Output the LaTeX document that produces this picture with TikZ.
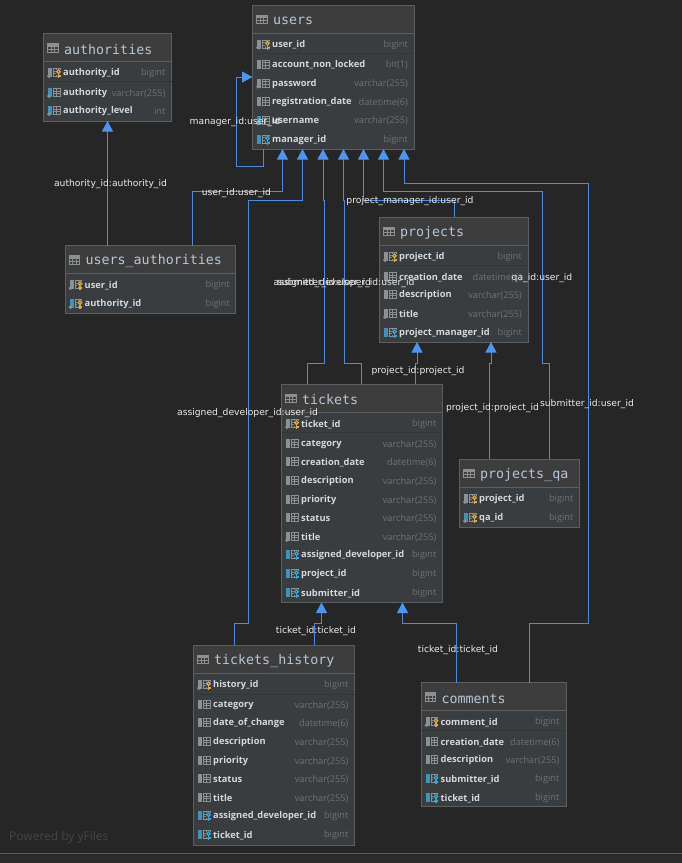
\documentclass[tikz,border=0pt]{standalone}
\usepackage{fontspec}
\usetikzlibrary{arrows.meta}
\setmainfont{Open Sans}
\newfontfamily\titlefont{DejaVu Sans Mono}
\newfontfamily\edgefont{DejaVu Sans}
\definecolor{canvas}{HTML}{262626}
\definecolor{band}{HTML}{2B2B2B}
\definecolor{tablebody}{HTML}{3A3D40}
\definecolor{tablehead}{HTML}{3D3D3D}
\definecolor{tableedge}{HTML}{5C5E5F}
\definecolor{titleink}{HTML}{B6C6D6}
\definecolor{nameink}{HTML}{D3D8DC}
\definecolor{typeink}{HTML}{6E7275}
\definecolor{iconink}{HTML}{8B9093}
\definecolor{fkblue}{HTML}{3D93B8}
\definecolor{keygold}{HTML}{E0A93F}
\definecolor{keycyan}{HTML}{35A7D6}
\definecolor{link}{HTML}{4A8BDD}
\definecolor{tip}{HTML}{4C95F2}
\tikzset{
  x=1pt,y=-1pt,
  dbtable/.style={draw=tableedge,line width=1pt,fill=tablebody,anchor=north west,inner sep=0pt,outer sep=0pt},
  dbtitle/.style={anchor=west,inner sep=0pt,text=titleink,font=\titlefont\fontsize{13.3}{14}\selectfont},
  colname/.style={anchor=west,inner sep=0pt,text=nameink,font=\bfseries\fontsize{9.3}{10}\selectfont},
  coltype/.style={anchor=east,inner sep=0pt,text=typeink,font=\fontsize{9.2}{10}\selectfont},
  fk/.style={draw=link,line width=1pt,-{Triangle[length=10.5pt,width=11pt,color=tip]}},
  edgelabel/.style={inner sep=0pt,text=white!92!black,font=\edgefont\fontsize{9.2}{10}\selectfont},
  brand/.style={anchor=west,inner sep=0pt,text=white!27!black,font=\fontsize{12}{13}\selectfont}
}
\newcounter{rowno}
% table frame: name, x, y, width, height, title
\newcommand{\dbframe}[6]{%
  \node[dbtable,minimum width=#4pt,minimum height=#5pt] (#1) at (#2,#3) {};
  \fill[tablehead] (#2+.5,#3+.5) rectangle (#2+#4-.5,#3+28);
  \draw[tableedge,line width=.8pt] (#2,#3+28) -- (#2+#4,#3+28);
  \draw[iconink,line width=.8pt] (#2+4,#3+10) rectangle (#2+14.5,#3+18.5)
     (#2+4,#3+12.5) -- (#2+14.5,#3+12.5) (#2+4,#3+15.5) -- (#2+14.5,#3+15.5)
     (#2+7.5,#3+10) -- (#2+7.5,#3+18.5) (#2+11,#3+10) -- (#2+11,#3+18.5);
  \fill[iconink] (#2+4,#3+10) rectangle (#2+14.5,#3+12.5);
  \node[dbtitle] (#1-title) at (#2+20.5,#3+16) {#6};
}
% column icon parts, anchored at the left edge and row centre
\newcommand{\icongrid}[3]{%
  \fill[#3] (#1,#2-4.5) rectangle (#1+4,#2+4.5);
  \draw[iconink,line width=.8pt] (#1+5.5,#2-4) rectangle (#1+12,#2+4)
    (#1+5.5,#2-1.3) -- (#1+12,#2-1.3) (#1+5.5,#2+1.3) -- (#1+12,#2+1.3)
    (#1+8.5,#2-4) -- (#1+8.5,#2+4);
}
\newcommand{\icondot}[2]{\fill[iconink] (#1+1,#2+3.6) circle (1.9);}
\newcommand{\iconkey}[3]{%
  \fill[tablebody] (#1+10.5,#2) circle (3.2);
  \draw[#3,line width=1.2pt] (#1+10.5,#2-.8) circle (1.8);
  \draw[#3,line width=1.2pt] (#1+10.5,#2+1) -- (#1+10.5,#2+5.5) (#1+10.5,#2+3.5) -- (#1+12.5,#2+3.5);
}
% one column row: table x, row y, icon kind, name, type, right edge of type text
\newcommand{\dbrow}[6]{%
  \stepcounter{rowno}%
  \ifcase#3\relax
    \icongrid{#1+4.5}{#2}{iconink}%               0 plain column
  \or \icongrid{#1+4.5}{#2}{iconink}\icondot{#1+4.5}{#2}%  1 not-null column
  \or \icongrid{#1+4.5}{#2}{fkblue}\icondot{#1+4.5}{#2}%   2 indexed column
  \or \icongrid{#1+4.5}{#2}{fkblue}\iconkey{#1+4.5}{#2}{keycyan}%  3 foreign key
  \or \icongrid{#1+4.5}{#2}{iconink}\icondot{#1+4.5}{#2}\iconkey{#1+4.5}{#2}{keygold}%  4 primary key
  \or \icongrid{#1+4.5}{#2}{fkblue}\icondot{#1+4.5}{#2}\iconkey{#1+4.5}{#2}{keygold}%   5 primary and foreign key
  \fi
  \node[colname] (row\therowno) at (#1+19.5,#2+1) {#4};
  \node[coltype] (type\therowno) at (#6,#2+1) {#5};
}
\newcommand{\keyline}[3]{\draw[tableedge!125,line width=.8pt] (#1,#3) -- (#1+#2,#3);}
\begin{document}
\begin{tikzpicture}
\useasboundingbox (0,0) rectangle (682,863);
\fill[canvas] (0,0) rectangle (682,863);
\fill[band] (0,853) rectangle (682,863);
\draw[white!35!black,line width=.8pt] (0,853) -- (682,853);
\node[brand] (brand) at (9,837) {Powered by yFiles};

% users
\dbframe{users}{252.5}{5}{161.5}{144}{users}
\dbrow{252.5}{44}{4}{user\_id}{bigint}{408}
\keyline{252.5}{161.5}{53.5}
\dbrow{252.5}{64}{0}{account\_non\_locked}{bit(1)}{408}
\dbrow{252.5}{83}{1}{password}{varchar(255)}{408}
\dbrow{252.5}{101.5}{0}{registration\_date}{datetime(6)}{408}
\dbrow{252.5}{120}{2}{username}{varchar(255)}{408}
\dbrow{252.5}{139}{3}{manager\_id}{bigint}{408}

% authorities
\dbframe{authorities}{43.5}{33.5}{128}{87.5}{authorities}
\dbrow{43.5}{72.5}{4}{authority\_id}{bigint}{165.5}
\keyline{43.5}{128}{81.5}
\dbrow{43.5}{92.5}{2}{authority}{varchar(255)}{165.5}
\dbrow{43.5}{110.5}{2}{authority\_level}{int}{165.5}

% users_authorities
\dbframe{ua}{65}{245.5}{170.5}{68}{users\_authorities}
\dbrow{65}{284.5}{4}{user\_id}{bigint}{230}
\dbrow{65}{303.5}{5}{authority\_id}{bigint}{230}

% projects
\dbframe{projects}{379.5}{217}{148.5}{125}{projects}
\dbrow{379.5}{256.5}{4}{project\_id}{bigint}{522}
\keyline{379.5}{148.5}{265.5}
\dbrow{379.5}{276.5}{0}{creation\_date}{datetime(6)}{522}
\dbrow{379.5}{294.5}{0}{description}{varchar(255)}{522}
\dbrow{379.5}{313.5}{1}{title}{varchar(255)}{522}
\dbrow{379.5}{332.5}{3}{project\_manager\_id}{bigint}{522}

% tickets
\dbframe{tickets}{281.5}{384}{160.5}{218.5}{tickets}
\dbrow{281.5}{423.5}{4}{ticket\_id}{bigint}{436.5}
\keyline{281.5}{160.5}{432.5}
\dbrow{281.5}{443.5}{0}{category}{varchar(255)}{436.5}
\dbrow{281.5}{461.5}{0}{creation\_date}{datetime(6)}{436.5}
\dbrow{281.5}{480.5}{0}{description}{varchar(255)}{436.5}
\dbrow{281.5}{499.5}{0}{priority}{varchar(255)}{436.5}
\dbrow{281.5}{517.5}{0}{status}{varchar(255)}{436.5}
\dbrow{281.5}{536.5}{1}{title}{varchar(255)}{436.5}
\dbrow{281.5}{554.5}{3}{assigned\_developer\_id}{bigint}{436.5}
\dbrow{281.5}{573.5}{3}{project\_id}{bigint}{436.5}
\dbrow{281.5}{592.5}{3}{submitter\_id}{bigint}{436.5}

% projects_qa
\dbframe{qa}{459.5}{459}{119.5}{68}{projects\_qa}
\dbrow{459.5}{498.5}{4}{project\_id}{bigint}{573.5}
\dbrow{459.5}{517.5}{5}{qa\_id}{bigint}{573.5}

% tickets_history
\dbframe{history}{193.5}{645}{161}{200}{tickets\_history}
\dbrow{193.5}{684.5}{4}{history\_id}{bigint}{348.5}
\keyline{193.5}{161}{694}
\dbrow{193.5}{704.5}{0}{category}{varchar(255)}{348.5}
\dbrow{193.5}{722.5}{0}{date\_of\_change}{datetime(6)}{348.5}
\dbrow{193.5}{741.5}{0}{description}{varchar(255)}{348.5}
\dbrow{193.5}{760.5}{0}{priority}{varchar(255)}{348.5}
\dbrow{193.5}{778.5}{0}{status}{varchar(255)}{348.5}
\dbrow{193.5}{797.5}{0}{title}{varchar(255)}{348.5}
\dbrow{193.5}{815.5}{3}{assigned\_developer\_id}{bigint}{348.5}
\dbrow{193.5}{834.5}{3}{ticket\_id}{bigint}{348.5}

% comments
\dbframe{comments}{421}{682.5}{145}{124}{comments}
\dbrow{421}{721.5}{4}{comment\_id}{bigint}{559.5}
\keyline{421}{145}{730.5}
\dbrow{421}{741.5}{0}{creation\_date}{datetime(6)}{559.5}
\dbrow{421}{759.5}{0}{description}{varchar(255)}{559.5}
\dbrow{421}{778.5}{3}{submitter\_id}{bigint}{559.5}
\dbrow{421}{797.5}{3}{ticket\_id}{bigint}{559.5}

% foreign key connectors
\draw[fk] (263,0 |- users.south) |- (236,166) |- (users.west |- 0,77);
\draw[fk] (107.5,0 |- ua.north) -- (107.5,0 |- authorities.south);
\draw[fk] (192.5,0 |- ua.north) |- (282.5,191.5) -- (282.5,0 |- users.south);
\draw[fk] (234.5,0 |- history.north) |- (248,623) |- (302.5,200.5) -- (302.5,0 |- users.south);
\draw[fk] (307.5,0 |- tickets.north) |- (324.5,363.5) |- (323,200.5) -- (323,0 |- users.south);
\draw[fk] (361.5,0 |- tickets.north) |- (344.5,363.5) |- (343.5,200.5) -- (343.5,0 |- users.south);
\draw[fk] (454.5,0 |- projects.north) |- (363.5,200.5) -- (363.5,0 |- users.south);
\draw[fk] (549.5,0 |- qa.north) |- (542.5,363.5) |- (383.5,191.5) -- (383.5,0 |- users.south);
\draw[fk] (529.5,0 |- comments.north) |- (588.5,623) |- (404,183.5) -- (404,0 |- users.south);
\draw[fk] (415.5,0 |- tickets.north) |- (417,363.5) -- (417,0 |- projects.south);
\draw[fk] (489.5,0 |- qa.north) |- (491,363.5) -- (491,0 |- projects.south);
\draw[fk] (314.5,0 |- history.north) |- (321.5,623) -- (321.5,0 |- tickets.south);
\draw[fk] (456.5,0 |- comments.north) |- (402.5,623) -- (402.5,0 |- tickets.south);

% connector captions
\node[edgelabel] (l1) at (110.5,183.7) {authority\_id:authority\_id};
\node[edgelabel] (l2) at (235,122.5) {manager\_id:user\_id};
\node[edgelabel] (l3) at (236.4,193) {user\_id:user\_id};
\node[edgelabel] (l4) at (344,283) {assigned\_developer\_id:user\_id};
\node[edgelabel] (l5) at (324,283) {submitter\_id:user\_id};
\node[edgelabel] (l6) at (410,201) {project\_manager\_id:user\_id};
\node[edgelabel] (l7) at (542,277.7) {qa\_id:user\_id};
\node[edgelabel] (l8) at (418,371) {project\_id:project\_id};
\node[edgelabel] (l9) at (492.5,408) {project\_id:project\_id};
\node[edgelabel] (l10) at (247.5,413) {assigned\_developer\_id:user\_id};
\node[edgelabel] (l11) at (587,404) {submitter\_id:user\_id};
\node[edgelabel] (l12) at (316,630.7) {ticket\_id:ticket\_id};
\node[edgelabel] (l13) at (458,649.7) {ticket\_id:ticket\_id};
\end{tikzpicture}
\end{document}
